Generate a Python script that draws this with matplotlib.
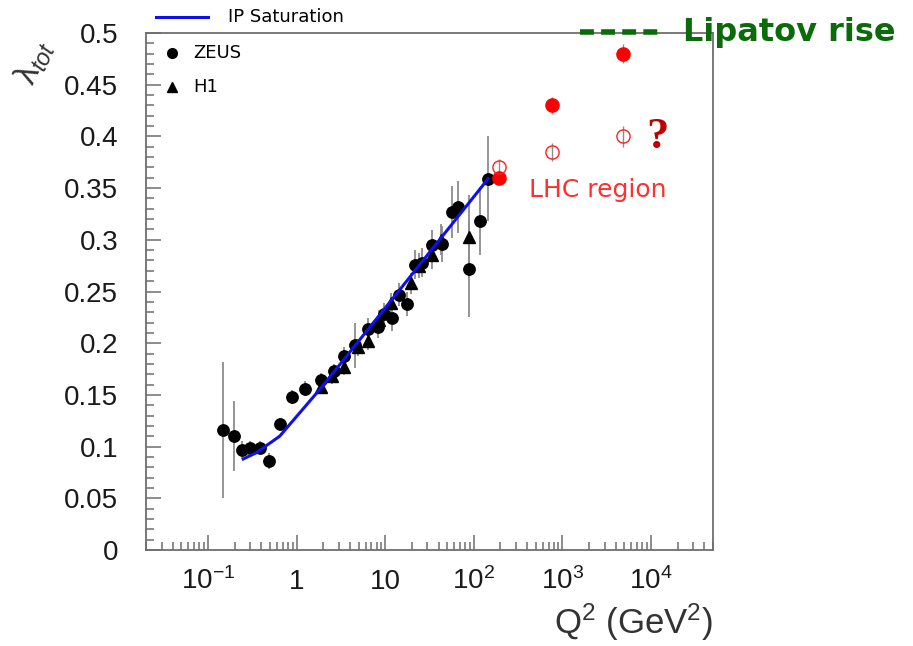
import matplotlib
matplotlib.use("Agg")
import matplotlib.pyplot as plt
from matplotlib.lines import Line2D

plt.rcParams["mathtext.fontset"] = "custom"
plt.rcParams["mathtext.rm"] = "Liberation Sans"
plt.rcParams["mathtext.it"] = "Liberation Sans:italic"
plt.rcParams["mathtext.bf"] = "Liberation Sans:bold"

# ZEUS measurements of lambda_tot vs Q^2
zeus_q2 = [0.149, 0.198, 0.245, 0.296, 0.391, 0.489, 0.644, 0.885, 1.26, 1.88,
           2.63, 3.46, 4.55, 6.4, 8.2, 9.75, 11.9, 14.4, 17.5, 21.5,
           26.0, 34.0, 43.5, 57.0, 66.0, 88.0, 117.0, 145.0]
zeus_lam = [0.116, 0.110, 0.097, 0.099, 0.099, 0.086, 0.122, 0.148, 0.156, 0.164,
            0.173, 0.188, 0.198, 0.214, 0.216, 0.228, 0.224, 0.247, 0.238, 0.276,
            0.278, 0.295, 0.296, 0.327, 0.332, 0.272, 0.318, 0.359]
zeus_err = [0.066, 0.034, 0.008, 0.006, 0.006, 0.008, 0.006, 0.007, 0.007, 0.007,
            0.007, 0.008, 0.022, 0.010, 0.011, 0.011, 0.012, 0.011, 0.012, 0.014,
            0.014, 0.014, 0.017, 0.025, 0.025, 0.047, 0.033, 0.041]

# H1 measurements
h1_q2 = [1.9, 2.5, 3.46, 4.9, 6.4, 8.6, 11.6, 19.4, 24.0, 34.0, 43.0, 88.0]
h1_lam = [0.158, 0.168, 0.177, 0.196, 0.2025, 0.222, 0.239, 0.258, 0.275, 0.285, 0.300, 0.303]
h1_err = [0.006, 0.007, 0.008, 0.008, 0.009, 0.010, 0.010, 0.010, 0.012, 0.013, 0.015, 0.040]

# IP saturation model curve
ipsat_q2 = [0.25, 0.35, 0.644, 1.9, 10.0, 145.0]
ipsat_lam = [0.088, 0.094, 0.110, 0.157, 0.234, 0.359]

# LHC-region extrapolations
lhc_q2 = [190.0, 770.0, 4800.0]
lipatov_lam = [0.360, 0.430, 0.480]
lipatov_err = [0.007, 0.008, 0.009]
sat_lam = [0.370, 0.385, 0.400]
sat_err = [0.008, 0.009, 0.010]

xtick_vals = [0.1, 1, 10, 100, 1000, 10000]
xtick_labels = [r"$10^{-1}$", "1", "10", r"$10^{2}$", r"$10^{3}$", r"$10^{4}$"]
ytick_vals = [0.0, 0.05, 0.1, 0.15, 0.2, 0.25, 0.3, 0.35, 0.4, 0.45, 0.5]
ytick_labels = ["0", "0.05", "0.1", "0.15", "0.2", "0.25", "0.3", "0.35", "0.4", "0.45", "0.5"]

W, H = 913, 646
fig = plt.figure(figsize=(W / 100, H / 100), dpi=100)
ax = fig.add_axes([146 / W, 1 - 550 / H, (713 - 146) / W, (550 - 33) / H])

frame_col = "#6e6e6e"
err_col = "#8c8c8c"

ax.errorbar(zeus_q2, zeus_lam, yerr=zeus_err, fmt="none", ecolor=err_col,
            elinewidth=1.3, capsize=0, zorder=2)
ax.errorbar(h1_q2, h1_lam, yerr=h1_err, fmt="none", ecolor=err_col,
            elinewidth=1.3, capsize=0, zorder=2)
ax.errorbar(lhc_q2, lipatov_lam, yerr=lipatov_err, fmt="none", ecolor=err_col,
            elinewidth=1.0, capsize=0, zorder=2)
ax.errorbar(lhc_q2, sat_lam, yerr=sat_err, fmt="none", ecolor=err_col,
            elinewidth=1.0, capsize=0, zorder=2)

ax.plot(zeus_q2, zeus_lam, "o", color="black", markersize=8.2, linestyle="none", zorder=3)
ax.plot(h1_q2, h1_lam, "^", color="black", markersize=8.2, linestyle="none", zorder=3)
ax.plot(lhc_q2, lipatov_lam, "o", color="#ff0000", markersize=9.5, linestyle="none", zorder=3)
ax.plot(lhc_q2, sat_lam, "o", markerfacecolor="none", markeredgecolor="#ff2020",
        markeredgewidth=1.0, markersize=9.5, linestyle="none", zorder=3)

ax.plot(ipsat_q2, ipsat_lam, "-", color="#1010ee", linewidth=2.2, zorder=4)

ax.set_xscale("log")
ax.set_xlim(0.02, 5e4)
ax.set_ylim(0, 0.5)

ax.set_xticks(xtick_vals, xtick_labels)
ax.set_yticks(ytick_vals, ytick_labels)
ax.xaxis.set_minor_locator(matplotlib.ticker.LogLocator(base=10, subs=range(2, 10), numticks=20))
ax.xaxis.set_minor_formatter(matplotlib.ticker.NullFormatter())
ax.yaxis.set_minor_locator(matplotlib.ticker.MultipleLocator(0.01))

ax.tick_params(which="both", direction="in", color=frame_col, width=1.1,
               top=False, right=False)
ax.tick_params(which="major", length=11)
ax.tick_params(which="minor", length=5.5)
ax.tick_params(axis="y", which="major", labelsize=20, pad=20)
ax.tick_params(axis="x", which="major", labelsize=20, pad=28)
for lab in ax.get_yticklabels() + ax.get_xticklabels():
    lab.set_fontfamily("Liberation Sans")
    lab.set_color("#1a1a1a")
for lab in ax.get_xticklabels():
    lab.set_verticalalignment("baseline")

for sp in ax.spines.values():
    sp.set_color(frame_col)
    sp.set_linewidth(1.3)

# axis titles
fig.text(713 / W, 1 - 622 / H, r"Q$^{2}$ (GeV$^{2}$)", ha="right", va="center",
         fontsize=25, family="Liberation Sans", color="#333333")
fig.text(35 / W, 1 - 62 / H, r"$\mathrm{\lambda}_{tot}$", ha="center", va="center",
         fontsize=24, rotation=65, color="#333333")

# legend
legend_font = dict(fontsize=13, family="DejaVu Sans", color="black", va="center")
fig.add_artist(Line2D([156 / W, 208 / W], [1 - 17 / H, 1 - 17 / H],
                      color="#1010ee", linewidth=2.2))
fig.text(228 / W, 1 - 17 / H, "IP Saturation", **legend_font)
fig.add_artist(Line2D([172 / W], [1 - 53 / H], marker="o", color="black", markersize=7))
fig.text(193 / W, 1 - 53 / H, "ZEUS", **legend_font)
fig.add_artist(Line2D([172 / W], [1 - 87 / H], marker="^", color="black", markersize=7))
fig.text(193 / W, 1 - 87 / H, "H1", **legend_font)

# annotations
fig.text(598 / W, 1 - 190 / H, "LHC region", ha="center", va="center",
         fontsize=18, color="#ff3030", family="DejaVu Sans")
fig.text(657 / W, 1 - 137 / H, "?", ha="center", va="center", fontsize=32,
         fontweight="bold", family="Liberation Serif", color="#c00000")
fig.add_artist(Line2D([580 / W, 662 / W], [1 - 32 / H, 1 - 32 / H], color="#0b6b0b",
                      linewidth=4.0, dashes=(2.5, 1.3), solid_capstyle="butt",
                      dash_capstyle="butt"))
fig.text(683 / W, 1 - 33 / H, "Lipatov rise", ha="left", va="center", fontsize=23,
         fontweight="bold", family="DejaVu Sans", color="#0b6b0b")

fig.savefig("out.png", dpi=100)
